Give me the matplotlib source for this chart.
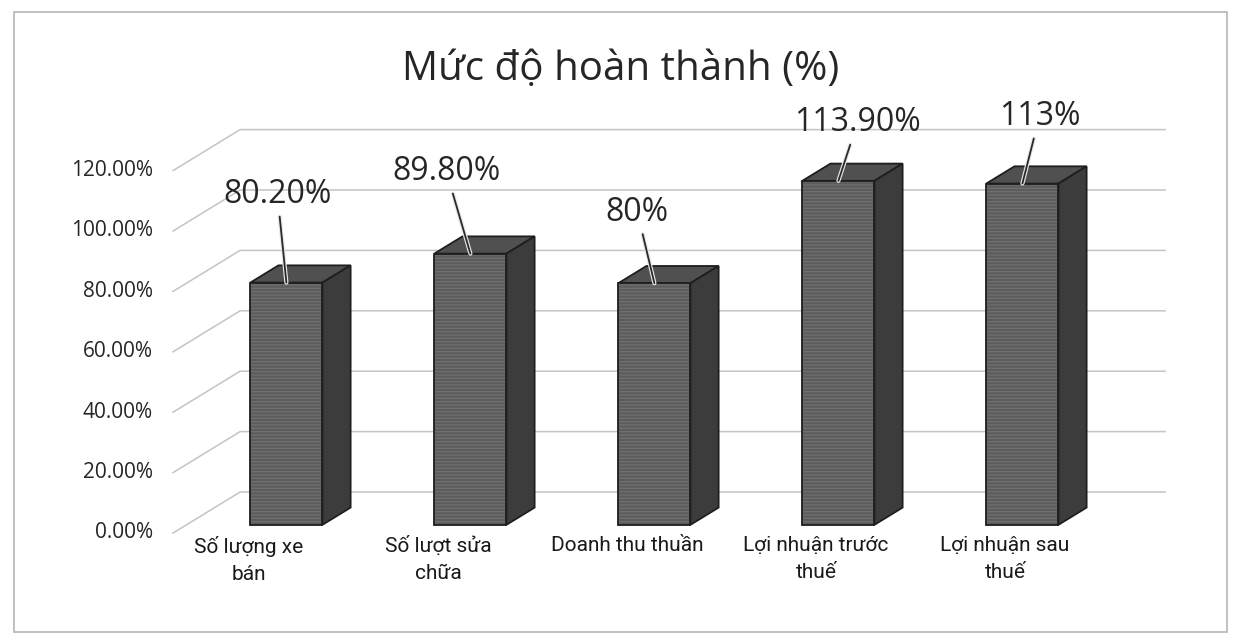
import numpy as np
import matplotlib.pyplot as plt
from matplotlib.patches import Polygon, Rectangle
import matplotlib.patheffects as pe

# data
categories = ["Số lượng xe\nbán", "Số lượt sửa\nchữa", "Doanh thu thuần",
              "Lợi nhuận trước\nthuế", "Lợi nhuận sau\nthuế"]
values = [0.802, 0.898, 0.80, 1.139, 1.13]
value_labels = ["80.20%", "89.80%", "80%", "113.90%", "113%"]
y_ticks = [0.0, 0.2, 0.4, 0.6, 0.8, 1.0, 1.2]
y_tick_labels = ["0.00%", "20.00%", "40.00%", "60.00%", "80.00%", "100.00%", "120.00%"]
title = "Mức độ hoàn thành (%)"

# layout (pixel based, fig is 1241x644 @ 100 dpi)
W, H = 1241, 644
PX_X0, PX_Y0 = 273, 533      # category 0 / value 0 on front plane
PX_CAT, PX_VAL = 184, 302    # pixels per category / per 100%
DX, DY = 67 / PX_CAT, 41 / PX_VAL   # oblique depth offset (full depth)
BAR_HALF = 0.196
D_FRONT, D_BACK = 0.2, 0.62
X_LEFT, X_RIGHT = -0.543, 4.484
label_offsets = [(-9, 88), (-24, 82), (-17, 71), (19, 58), (17, 67)]  # pixels
CAT_SPREAD = 1.027   # category labels sit on a slightly wider front plane

plt.rcParams["font.family"] = ["Open Sans", "DejaVu Sans"]


def proj(x, v, d):
    return x + DX * d, v + DY * d


fig = plt.figure(figsize=(W / 100, H / 100), dpi=100)
ax = fig.add_axes([0, 0, 1, 1])
ax.set_xlim(-PX_X0 / PX_CAT, (W - PX_X0) / PX_CAT)
ax.set_ylim((PX_Y0 - H) / PX_VAL, PX_Y0 / PX_VAL)
ax.axis("off")

# chart border
fig.patches.append(Rectangle((14 / W, 1 - 632 / H), (1227 - 14) / W, (632 - 12) / H,
                             transform=fig.transFigure, fill=False,
                             edgecolor="#b5b5b5", lw=1.2))

# back wall gridlines
for t, lab in zip(y_ticks, y_tick_labels):
    p0 = proj(X_LEFT, t, 0)
    p1 = proj(X_LEFT, t, 1)
    p2 = proj(X_RIGHT, t, 1)
    ax.plot([p0[0], p1[0], p2[0]], [p0[1], p1[1], p2[1]], color="#c4c4c4", lw=1.1, zorder=1)
    ax.text((153 - PX_X0) / PX_CAT, t, lab, ha="right", va="center",
            fontsize=15, color="#262626")

# 3d bars
for i, v in enumerate(values):
    xl, xr = i - BAR_HALF, i + BAR_HALF
    fl_b, fr_b = proj(xl, 0, D_FRONT), proj(xr, 0, D_FRONT)
    fl_t, fr_t = proj(xl, v, D_FRONT), proj(xr, v, D_FRONT)
    bl_t, br_t = proj(xl, v, D_BACK), proj(xr, v, D_BACK)
    br_b = proj(xr, 0, D_BACK)

    top = Polygon([fl_t, fr_t, br_t, bl_t], closed=True, facecolor="#505050",
                  edgecolor="#1e1e1e", lw=1.3, zorder=3)
    side = Polygon([fr_b, fr_t, br_t, br_b], closed=True, facecolor="#3c3c3c",
                   edgecolor="#1e1e1e", lw=1.3, zorder=3)
    front_fill = Polygon([fl_b, fr_b, fr_t, fl_t], closed=True, facecolor="#5c5c5c",
                         edgecolor="#6e6e6e", lw=0, hatch="-----", zorder=4)
    front_edge = Polygon([fl_b, fr_b, fr_t, fl_t], closed=True, fill=False,
                         edgecolor="#1e1e1e", lw=1.3, zorder=5)
    for p in (top, side, front_fill, front_edge):
        ax.add_patch(p)

    # data label with leader line
    ox, oy = label_offsets[i]
    ann = ax.annotate(value_labels[i], xy=(i + DX * D_FRONT, v + DY * D_FRONT),
                      xytext=(ox, oy), textcoords="offset pixels",
                      ha="center", va="center", fontsize=23, color="#262626",
                      arrowprops=dict(arrowstyle="-", color="#2a2a2a", lw=1.3,
                                      shrinkA=2, shrinkB=0),
                      zorder=6)
    ann.arrow_patch.set_path_effects([pe.Stroke(linewidth=3, foreground="#e8e8e8"), pe.Normal()])

    # category label
    ax.text(i * CAT_SPREAD - 0.13, (PX_Y0 - 536) / PX_VAL, categories[i],
            ha="center", va="top", multialignment="center",
            fontsize=15, linespacing=1.55, color="#1a1a1a",
            family=["Liberation Sans Narrow", "Roboto", "DejaVu Sans"])

ax.text(0.5, 1 - 70 / H, title, transform=fig.transFigure, ha="center", va="center",
        fontsize=29, color="#262626")

fig.savefig("out.png", dpi=100)
